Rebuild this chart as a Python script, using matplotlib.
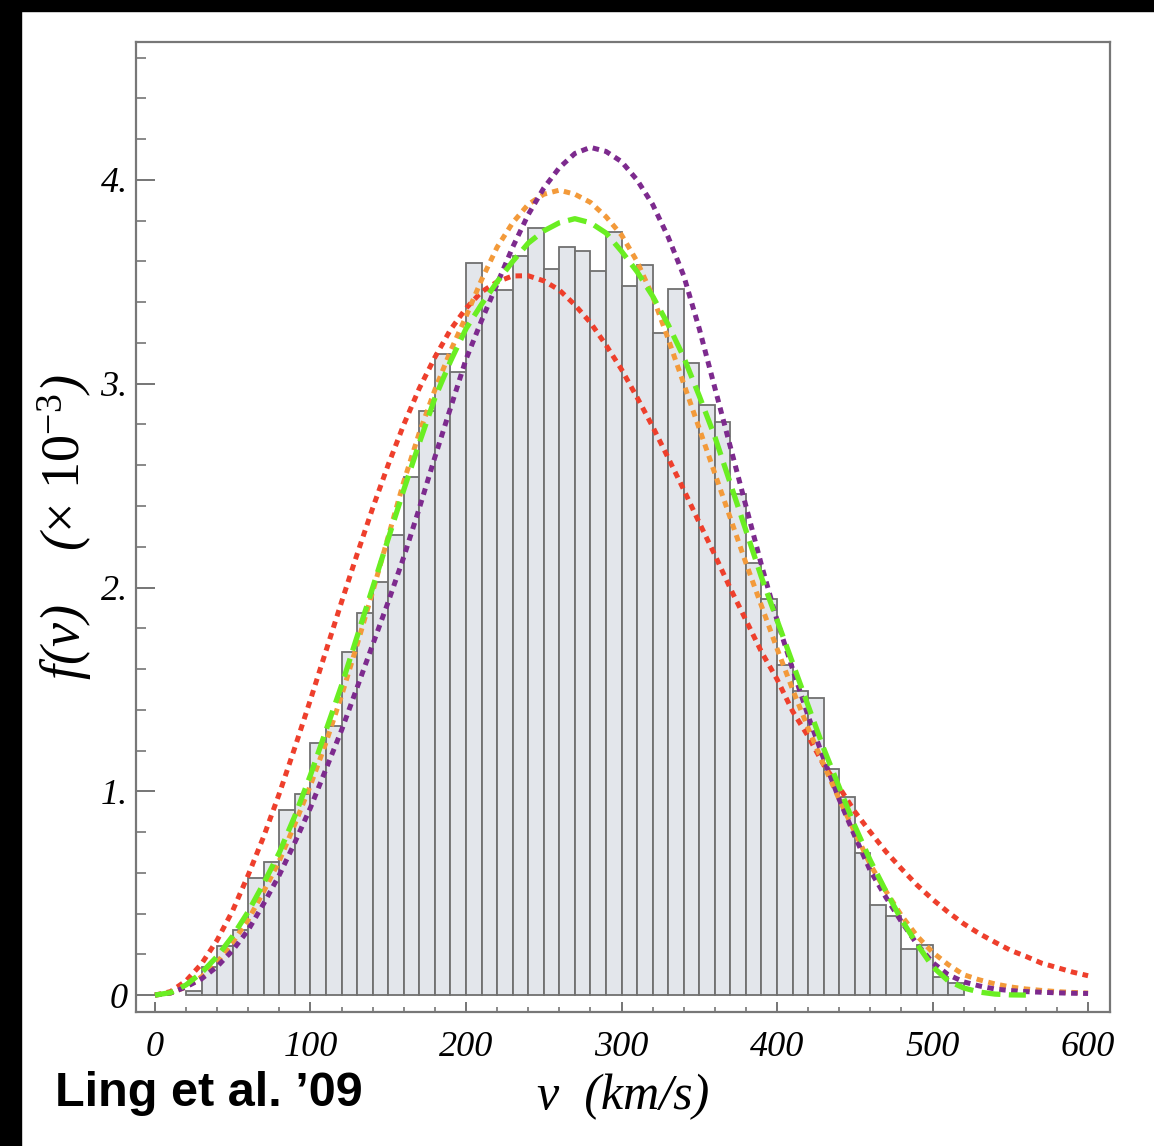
import matplotlib
matplotlib.use("Agg")
import matplotlib.pyplot as plt
from matplotlib.patches import Rectangle
from matplotlib.ticker import MultipleLocator, FixedLocator, FixedFormatter

plt.rcParams["mathtext.fontset"] = "custom"
plt.rcParams["mathtext.rm"] = "Liberation Serif"
plt.rcParams["mathtext.it"] = "Liberation Serif:italic"

# histogram: left edges of 10 km/s bins and heights (x 10^-3)
bin_left = list(range(20, 520, 10))
bin_height = [
    0.02, 0.14, 0.24, 0.32, 0.576, 0.651, 0.908, 0.985, 1.235, 1.32,
    1.686, 1.874, 2.029, 2.257, 2.544, 2.868, 3.146, 3.056, 3.594, 3.46,
    3.46, 3.627, 3.763, 3.562, 3.670, 3.651, 3.553, 3.743, 3.482, 3.581,
    3.251, 3.466, 3.102, 2.898, 2.811, 2.460, 2.122, 1.944, 1.62, 1.49,
    1.456, 1.109, 0.970, 0.699, 0.442, 0.388, 0.224, 0.245, 0.087, 0.057,
]

# fitted curves every 10 km/s
curve_v = list(range(0, 601, 10))
red_f = [0.0, 0.017, 0.07, 0.154, 0.27, 0.415, 0.59, 0.78, 0.99, 1.216,
         1.45, 1.69, 1.93, 2.164, 2.39, 2.603, 2.80, 2.978, 3.13, 3.265,
         3.37, 3.451, 3.50, 3.529, 3.53, 3.505, 3.46, 3.387, 3.30, 3.19,
         3.07, 2.933, 2.79, 2.636, 2.48, 2.318, 2.16, 1.995, 1.84, 1.684,
         1.55, 1.393, 1.27, 1.13, 1.02, 0.90, 0.80, 0.704, 0.62, 0.54,
         0.47, 0.407, 0.35, 0.302, 0.26, 0.22, 0.19, 0.157, 0.135, 0.113, 0.095]
orange_f = [0.0, 0.01, 0.04, 0.09, 0.16, 0.26, 0.37, 0.51, 0.66, 0.84,
            1.03, 1.24, 1.47, 1.72, 1.98, 2.25, 2.52, 2.76, 2.97, 3.16,
            3.33, 3.51, 3.67, 3.79, 3.88, 3.93, 3.95, 3.93, 3.89, 3.82,
            3.73, 3.60, 3.43, 3.22, 3.00, 2.78, 2.56, 2.34, 2.12, 1.91,
            1.70, 1.50, 1.31, 1.13, 0.96, 0.80, 0.64, 0.51, 0.39, 0.29,
            0.21, 0.15, 0.10, 0.075, 0.055, 0.04, 0.03, 0.023, 0.017, 0.013, 0.010]
purple_f = [0.0, 0.01, 0.04, 0.08, 0.14, 0.22, 0.32, 0.45, 0.59, 0.75,
            0.92, 1.11, 1.30, 1.51, 1.72, 1.93, 2.15, 2.39, 2.64, 2.88,
            3.12, 3.31, 3.49, 3.67, 3.83, 3.96, 4.06, 4.13, 4.16, 4.14,
            4.09, 4.00, 3.88, 3.72, 3.53, 3.27, 2.98, 2.69, 2.40, 2.11,
            1.84, 1.60, 1.37, 1.16, 0.96, 0.78, 0.61, 0.48, 0.36, 0.25,
            0.16, 0.10, 0.065, 0.045, 0.03, 0.022, 0.017, 0.014, 0.011, 0.009, 0.008]
green_v = list(range(0, 561, 10))
green_f = [0.0, 0.012, 0.05, 0.11, 0.19, 0.29, 0.41, 0.55, 0.70, 0.88,
           1.08, 1.30, 1.52, 1.76, 2.00, 2.24, 2.48, 2.71, 2.93, 3.11,
           3.27, 3.39, 3.50, 3.60, 3.69, 3.75, 3.79, 3.81, 3.79, 3.74,
           3.65, 3.55, 3.43, 3.29, 3.13, 2.94, 2.74, 2.51, 2.28, 2.05,
           1.84, 1.63, 1.42, 1.21, 1.02, 0.83, 0.66, 0.51, 0.37, 0.25,
           0.14, 0.07, 0.035, 0.015, 0.005, 0.001, 0.0]

x_ticks = [0, 100, 200, 300, 400, 500, 600]
y_ticks = [0, 1, 2, 3, 4]
y_ticklabels = ["0", "1.", "2.", "3.", "4."]

W, H = 1154, 1146
fig = plt.figure(figsize=(W / 100, H / 100), dpi=100)
# black margins of the original screenshot
fig.patches.append(Rectangle((0, 1 - 11 / H), 1, 11 / H, transform=fig.transFigure,
                             color="black", zorder=0))
fig.patches.append(Rectangle((0, 0), 21 / W, 1, transform=fig.transFigure,
                             color="black", zorder=0))

ax = fig.add_axes([136 / W, 1 - 1012 / H, 974 / W, 970 / H])

ax.bar(bin_left, bin_height, width=10, align="edge", color="#e3e6eb",
       edgecolor="#707070", linewidth=1.3, zorder=1)

dots = (0, (1.3, 1.1))
ax.plot(curve_v, red_f, color="#ee3f2c", lw=3.6, ls=dots, zorder=3)
ax.plot(curve_v, orange_f, color="#f39a3a", lw=3.6, ls=dots, zorder=4)
ax.plot(curve_v, purple_f, color="#7d2a8e", lw=3.6, ls=dots, zorder=5)
ax.plot(green_v, green_f, color="#6aee22", lw=3.8, ls=(0, (3.6, 1.6)), zorder=6)

ax.set_xlim(-12.2, 614.1)
ax.set_ylim(-0.083, 4.677)

ax.xaxis.set_major_locator(FixedLocator(x_ticks))
ax.xaxis.set_minor_locator(MultipleLocator(20))
ax.yaxis.set_major_locator(FixedLocator(y_ticks))
ax.yaxis.set_major_formatter(FixedFormatter(y_ticklabels))
ax.yaxis.set_minor_locator(MultipleLocator(0.2))

ax.tick_params(axis="y", which="major", direction="in", length=14, width=1.3,
               color="#6a6a6a", pad=6)
ax.tick_params(axis="y", which="minor", direction="in", length=7, width=1.1,
               color="#6a6a6a")
ax.tick_params(axis="x", which="major", direction="in", length=7, width=1.3,
               color="#6a6a6a", pad=14)
ax.tick_params(axis="x", which="minor", direction="in", length=3.5, width=1.1,
               color="#6a6a6a")
for lab in ax.get_xticklabels() + ax.get_yticklabels():
    lab.set_fontfamily("Liberation Serif")
    lab.set_fontstyle("italic")
    lab.set_fontsize(26)

for sp in ax.spines.values():
    sp.set_color("#777777")
    sp.set_linewidth(1.6)

ax.set_xlabel("v  (km/s)", fontfamily="Liberation Serif", fontstyle="italic",
              fontsize=36, va="top")
ax.xaxis.set_label_coords(0.5, -0.064)
ax.set_ylabel(r"f(v)    ($\times$ $\mathit{10}^{-3}$)", fontfamily="Liberation Serif",
              fontstyle="italic", fontsize=39)
ax.yaxis.set_label_coords(-0.043, 0.5)

fig.text(55 / W, 1 - 1094 / H, "Ling et al. \u201909", fontfamily="Liberation Sans",
         fontweight="bold", fontsize=35, va="center", ha="left")

fig.savefig("out.png", dpi=100, facecolor="white")
